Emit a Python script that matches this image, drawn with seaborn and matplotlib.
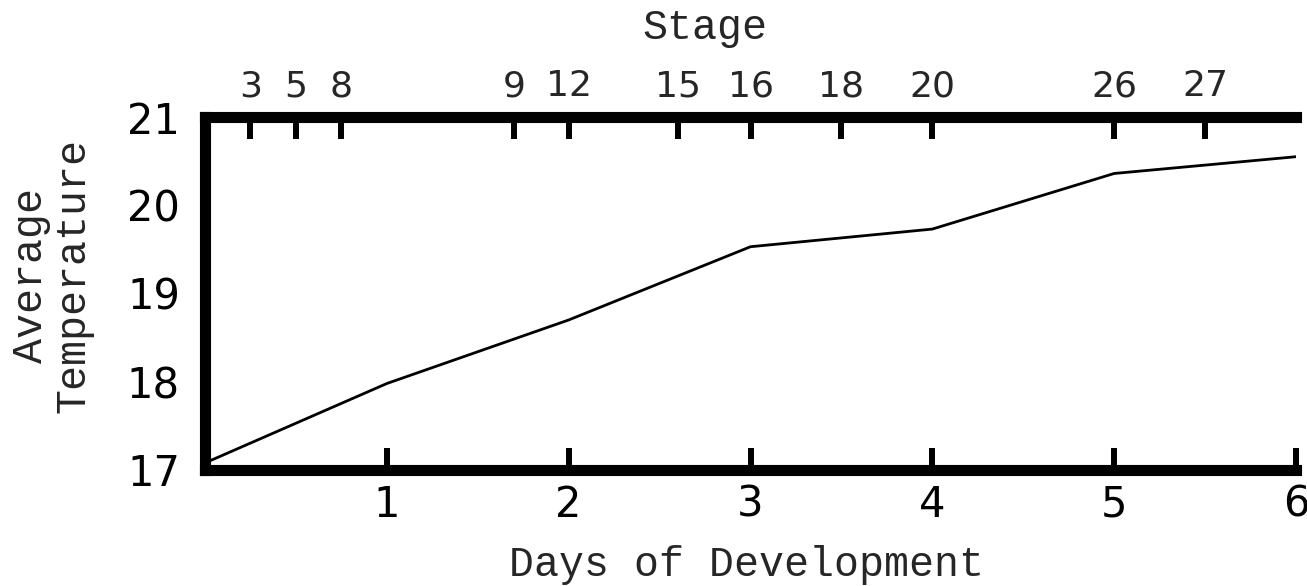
import matplotlib
matplotlib.use("Agg")
import matplotlib.pyplot as plt
import seaborn as sns
import pandas as pd

days = [0, 1, 2, 3, 4, 5, 6]
avg_temp = [17.08, 17.98, 18.70, 19.53, 19.73, 20.36, 20.55]

stage_days = [0.25, 0.5, 0.75, 1.7, 2.0, 2.6, 3.0, 3.5, 4.0, 5.0, 5.5]
stage_labels = ["3", "5", "8", "9", "12", "15", "16", "18", "20", "26", "27"]

x_ticks = [1, 2, 3, 4, 5, 6]
y_ticks = [17, 18, 19, 20, 21]

MONO = ["Liberation Mono", "DejaVu Sans Mono"]
SANS = ["DejaVu Sans"]

sns.set_style("white")
plt.rcParams["font.family"] = SANS

df = pd.DataFrame({"day": days, "temp": avg_temp})

fig = plt.figure(figsize=(13.07, 5.86), dpi=100)
ax = fig.add_axes([205 / 1307, 1 - 470 / 586, 1091 / 1307, 353 / 586])

sns.lineplot(data=df, x="day", y="temp", ax=ax, color="black", linewidth=2.0)

ax.set_xlim(0, 6)
ax.set_ylim(17, 21)
ax.set_xticks(x_ticks)
ax.set_yticks(y_ticks)

spine_w = 8
for side in ["left", "bottom"]:
    ax.spines[side].set_linewidth(spine_w)
    ax.spines[side].set_color("black")
for side in ["top", "right"]:
    ax.spines[side].set_visible(False)

ax.tick_params(axis="both", direction="in", length=15.5, width=4.3,
               color="black", labelsize=30, labelcolor="black")
ax.tick_params(axis="x", pad=10)
ax.tick_params(axis="y", pad=18)

ax.set_xlabel("Days of Development", fontsize=30, family=MONO)
ax.xaxis.set_label_coords(0.496, -0.269)
ax.xaxis.label.set_verticalalignment("center")

ax.set_ylabel("Average\nTemperature", fontsize=30, family=MONO,
              linespacing=1.05)
ax.yaxis.set_label_coords(-0.140, 0.552)
ax.yaxis.label.set_verticalalignment("center")
ax.yaxis.label.set_horizontalalignment("center")

top = ax.twiny()
top.set_xlim(0, 6)
top.set_xticks(stage_days)
top.set_xticklabels(stage_labels)
for side in ["left", "bottom", "right"]:
    top.spines[side].set_visible(False)
top.spines["top"].set_linewidth(spine_w)
top.spines["top"].set_color("black")
top.tick_params(axis="x", direction="in", length=15.5, width=4.3,
                color="black", labelsize=26, pad=10)
top.set_xlabel("Stage", fontsize=30, family=MONO)
top.xaxis.set_label_coords(0.458, 1.252)
top.xaxis.label.set_verticalalignment("center")

fig.savefig("out.png", dpi=100)
